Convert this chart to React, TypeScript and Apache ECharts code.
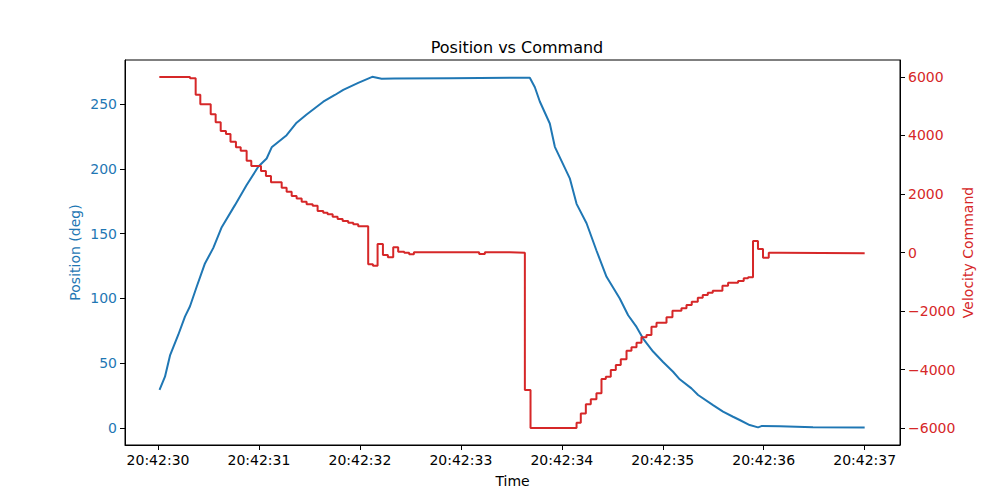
import { useEffect, useRef } from 'react'
import * as echarts from 'echarts'

// seconds after 20:42:30
const xTicks = [0, 1, 2, 3, 4, 5, 6, 7]
const positionTicks = [0, 50, 100, 150, 200, 250]
const commandTicks = [-6000, -4000, -2000, 0, 2000, 4000, 6000]

const positionTimes = [
  0.015, 0.069, 0.119, 0.201, 0.267, 0.317, 0.383, 0.465, 0.548, 0.631, 0.762, 0.878, 0.993, 1.076,
  1.126, 1.274, 1.373, 1.472, 1.637, 1.752, 1.835, 1.983, 2.122, 2.215, 2.34, 2.891, 3.683, 3.733,
  3.782, 3.881, 3.931, 4.079, 4.146, 4.245, 4.343, 4.443, 4.574, 4.657, 4.74, 4.805, 4.904, 5.003,
  5.102, 5.168, 5.284, 5.35, 5.498, 5.597, 5.696, 5.762, 5.861, 5.944, 5.977, 6.158, 6.488, 7.0,
]
const positionValues = [
  29.5, 39.6, 56, 72, 86, 94, 109, 127, 139, 155, 172, 187.5, 201.6, 208, 216.6, 226, 235.6, 242,
  251.8, 257, 261, 266.4, 271, 269.5, 269.8, 270, 270.3, 263, 252, 235, 217, 192.7, 173, 158, 137,
  116.7, 100, 87, 78, 69, 59, 51, 43.4, 37.6, 30.6, 25.5, 17.7, 12.6, 8.7, 6.2, 2.3, 0.5, 1.5, 1.3,
  0.6, 0.4,
]

const commandTimes = [
  0.013, 0.317, 0.373, 0.419, 0.522, 0.571, 0.621, 0.673, 0.718, 0.772, 0.819, 0.878, 0.924, 1.02,
  1.069, 1.119, 1.225, 1.274, 1.324, 1.373, 1.423, 1.472, 1.532, 1.581, 1.637, 1.68, 1.73, 1.779,
  1.829, 1.884, 1.934, 1.983, 2.082, 2.129, 2.175, 2.228, 2.277, 2.33, 2.379, 2.439, 2.488, 2.535,
  3.181, 3.238, 3.485, 3.634, 3.69, 4.146, 4.188, 4.238, 4.287, 4.343, 4.393, 4.436, 4.485, 4.535,
  4.584, 4.641, 4.69, 4.74, 4.789, 4.839, 4.888, 4.938, 5.037, 5.096, 5.185, 5.235, 5.287, 5.347,
  5.396, 5.446, 5.495, 5.591, 5.647, 5.746, 5.802, 5.845, 5.894, 5.943, 5.993, 6.05, 6.151, 7.0,
]
const commandValues = [
  6000, 5960, 5390, 5070, 4725, 4450, 4155, 4050, 3790, 3600, 3480, 3140, 2957, 2786, 2615, 2400,
  2215, 2080, 1930, 1850, 1737, 1650, 1600, 1420, 1360, 1310, 1224, 1145, 1080, 1020, 965, 900,
  -400, -450, 290, -85, -165, 178, 27, -7, -60, 10, -50, 10, -10, -4700, -6000, -5820, -5500,
  -5190, -5020, -4815, -4325, -4245, -4017, -3846, -3651, -3357, -3242, -3083, -2900, -2821,
  -2536, -2400, -2215, -1989, -1908, -1795, -1681, -1545, -1453, -1374, -1306, -1135, -1032, -974,
  -882, -848, 393, 120, -178, -7, -27, -10,
]

const BLUE = '#1f77b4'
const RED = '#d62728'
const FONT = 'DejaVu Sans'

export default function App() {
  const chartRef = useRef<HTMLDivElement | null>(null)

  useEffect(() => {
    if (!chartRef.current) {
      return undefined
    }

    const chart = echarts.init(chartRef.current, undefined, { renderer: 'svg' })

    chart.setOption({
      animation: false,
      backgroundColor: '#fff',
      textStyle: { fontFamily: FONT },
      title: {
        text: 'Position vs Command',
        left: 512,
        top: 34,
        textAlign: 'center',
        textStyle: { fontFamily: FONT, fontSize: 16, fontWeight: 'normal', color: '#000' },
      },
      grid: {
        left: 125,
        right: 100,
        top: 60,
        bottom: 55,
        show: true,
        borderColor: '#000',
        borderWidth: 1,
        backgroundColor: 'transparent',
      },
      xAxis: {
        type: 'value',
        min: -0.327,
        max: 7.35,
        name: 'Time',
        nameLocation: 'middle',
        nameGap: 29,
        nameMoveOverlap: false,
        nameTextStyle: { color: '#000', fontSize: 14, fontFamily: FONT },
        axisLine: { show: true, onZero: false, lineStyle: { color: '#000', width: 1 } },
        axisTick: { show: true, length: 5, lineStyle: { color: '#000' }, customValues: xTicks },
        axisLabel: {
          color: '#000',
          fontSize: 14,
          margin: 8,
          customValues: xTicks,
          formatter: (v: number) => `20:42:${30 + Math.round(v)}`,
        },
        splitLine: { show: false },
      },
      yAxis: [
        {
          type: 'value',
          min: -13.1,
          max: 284,
          position: 'left',
          name: 'Position (deg)',
          nameLocation: 'middle',
          nameGap: 43,
          nameMoveOverlap: false,
          nameTextStyle: { color: BLUE, fontSize: 14, fontFamily: FONT },
          axisLine: { show: true, onZero: false, lineStyle: { color: '#000', width: 1 } },
          axisTick: { show: true, length: 5, lineStyle: { color: '#000' }, customValues: positionTicks },
          axisLabel: { color: BLUE, fontSize: 14, margin: 8, customValues: positionTicks },
          splitLine: { show: false },
        },
        {
          type: 'value',
          min: -6581,
          max: 6581,
          position: 'right',
          name: 'Velocity Command',
          nameLocation: 'middle',
          nameGap: 61,
          nameMoveOverlap: false,
          nameTextStyle: { color: RED, fontSize: 14, fontFamily: FONT },
          axisLine: { show: true, onZero: false, lineStyle: { color: '#000', width: 1 } },
          axisTick: { show: true, length: 5, lineStyle: { color: '#000' }, customValues: commandTicks },
          axisLabel: {
            color: RED,
            fontSize: 14,
            margin: 8,
            customValues: commandTicks,
            formatter: (v: number) => (v < 0 ? `\u2212${Math.abs(v)}` : `${v}`),
          },
          splitLine: { show: false },
        },
      ],
      series: [
        {
          name: 'Position',
          type: 'line',
          yAxisIndex: 0,
          showSymbol: false,
          lineStyle: { color: BLUE, width: 2 },
          itemStyle: { color: BLUE },
          data: positionTimes.map((t, i) => [t, positionValues[i]]),
        },
        {
          name: 'Velocity Command',
          type: 'line',
          yAxisIndex: 1,
          step: 'end',
          showSymbol: false,
          lineStyle: { color: RED, width: 2 },
          itemStyle: { color: RED },
          data: commandTimes.map((t, i) => [t, commandValues[i]]),
        },
      ],
    })

    return () => {
      chart.dispose()
    }
  }, [])

  return <div ref={chartRef} style={{ width: 1000, height: 500, margin: -8 }} />
}
